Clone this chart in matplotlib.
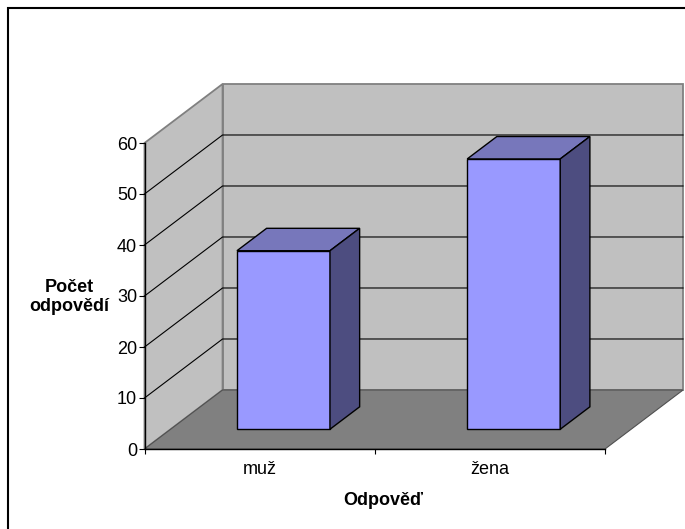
import numpy as np
import matplotlib
matplotlib.use("Agg")
import matplotlib.pyplot as plt
from matplotlib.patches import Polygon, Rectangle

# Survey answers
categories = ['muž', 'žena']
counts = [35, 53]
y_ticks = [0, 10, 20, 30, 40, 50, 60]

plt.rcParams['font.family'] = ['Liberation Sans', 'DejaVu Sans']

fig = plt.figure(figsize=(6.85, 5.29), dpi=100)
ax = fig.add_axes([144.5 / 685, 80 / 529, 460.5 / 685, 306 / 529])
ax.set_facecolor('none')
ax.set_xlim(0, len(categories))
ax.set_ylim(0, y_ticks[-1])

# oblique offset of the back plane (data units)
DX, DY = 0.339, 11.57


def proj(x, v, d):
    return (x + d * DX, v + d * DY)


def face(pts, **kw):
    ax.add_patch(Polygon([proj(*p) for p in pts], closed=True, clip_on=False, **kw))


ymax = y_ticks[-1]
xmax = len(categories)

# back wall, side wall, floor
face([(0, 0, 1), (xmax, 0, 1), (xmax, ymax, 1), (0, ymax, 1)],
     fc='#C0C0C0', ec='#808080', lw=1.3, zorder=0.5)
face([(0, 0, 0), (0, 0, 1), (0, ymax, 1), (0, ymax, 0)],
     fc='#C0C0C0', ec='#808080', lw=1.3, zorder=0.5)
face([(0, 0, 0), (xmax, 0, 0), (xmax, 0, 1), (0, 0, 1)],
     fc='#808080', ec='#505050', lw=0.8, zorder=0.6)

# gridlines on the walls
for v in y_ticks[1:-1]:
    pts = [proj(0, v, 0), proj(0, v, 1), proj(xmax, v, 1)]
    ax.plot([p[0] for p in pts], [p[1] for p in pts], color='black', lw=0.8,
            zorder=0.7, clip_on=False)

# 3d columns
bar_w = 0.404
d0, d1 = 0.335, 0.715
for i, v in enumerate(counts):
    x0 = i + 0.49 - bar_w / 2
    x1 = x0 + bar_w
    z = 2 + i * 0.1
    face([(x0, 0, d0), (x1, 0, d0), (x1, v, d0), (x0, v, d0)],
         fc='#9999FF', ec='black', lw=1.0, zorder=z)
    face([(x0, v, d0), (x1, v, d0), (x1, v, d1), (x0, v, d1)],
         fc='#7777BB', ec='black', lw=1.0, zorder=z)
    face([(x1, 0, d0), (x1, 0, d1), (x1, v, d1), (x1, v, d0)],
         fc='#4D4D80', ec='black', lw=1.0, zorder=z)

# axes
for s in ['top', 'right']:
    ax.spines[s].set_visible(False)
for s in ['left', 'bottom']:
    ax.spines[s].set_linewidth(1.0)
    ax.spines[s].set_zorder(3)

ax.set_yticks(y_ticks)
ax.tick_params(axis='y', direction='out', length=4.3, width=0.8, pad=1, labelsize=13)
ax.set_xticks(range(xmax + 1))
ax.set_xticklabels([])
ax.set_xticks(np.arange(xmax) + 0.5, minor=True)
ax.set_xticklabels(categories, minor=True)
ax.tick_params(axis='x', which='major', direction='out', length=3.6, width=0.8)
ax.tick_params(axis='x', which='minor', length=0, pad=9, labelsize=13)

ax.set_ylabel('Počet\nodpovědí', rotation=0, fontweight='bold', fontsize=13,
              ha='center', va='center', linespacing=1.15)
ax.yaxis.set_label_coords(-0.164, 0.498)
ax.set_xlabel('Odpověď', fontweight='bold', fontsize=13, va='center')
ax.xaxis.set_label_coords(0.518, -0.167)

# chart border
fig.patches.append(Rectangle((8 / 685, -0.1), 1.2, 1 - 8 / 529 + 0.1,
                             transform=fig.transFigure, fill=False,
                             ec='black', lw=1.5))

fig.savefig('out.png', dpi=100)
